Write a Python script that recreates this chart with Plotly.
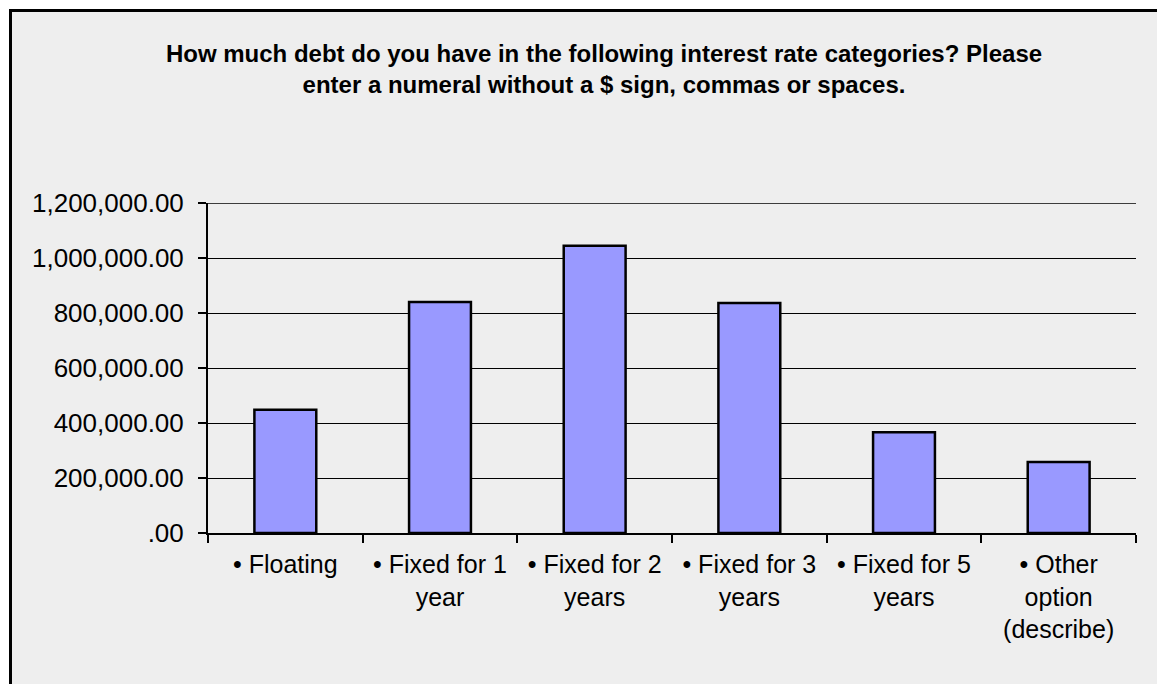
import plotly.graph_objects as go

# Debt by interest-rate category
categories = [
    "• Floating",
    "• Fixed for 1<br>year",
    "• Fixed for 2<br>years",
    "• Fixed for 3<br>years",
    "• Fixed for 5<br>years",
    "• Other<br>option<br>(describe)",
]
debt = [448000, 840000, 1045000, 836000, 366000, 258000]
y_ticks = [0, 200000, 400000, 600000, 800000, 1000000, 1200000]

title_text = ("How much debt do you have in the following interest rate categories? Please"
              "<br>enter a numeral without a $ sign, commas or spaces.")


def fmt_tick(v):
    s = f"{v:,.2f}"
    return s[1:] if s.startswith("0") else s


W, H = 1157, 684
L, R, T, B = 208, 21, 203, 151
pw, ph = W - L - R, H - T - B
FONT = "Liberation Sans, Arial, sans-serif"


def px_x(p):
    return (p - L) / pw


def px_y(p):
    return (H - B - p) / ph


fig = go.Figure(
    go.Bar(
        x=categories,
        y=debt,
        width=0.4,
        marker=dict(color="#9999FF", line=dict(color="black", width=2.5)),
    )
)

# framed gray panel behind the chart
fig.add_shape(
    type="rect", xref="paper", yref="paper",
    x0=px_x(10.5), x1=px_x(W + 10), y0=px_y(10.5), y1=px_y(H + 10),
    line=dict(color="black", width=3), fillcolor="#EEEEEE", layer="below",
)
# top gridline at the axis maximum
fig.add_shape(
    type="line", xref="paper", yref="y",
    x0=px_x(200), x1=1, y0=y_ticks[-1], y1=y_ticks[-1],
    line=dict(color="black", width=1.5), layer="below",
)

fig.update_layout(
    width=W, height=H,
    margin=dict(l=L, r=R, t=T, b=B),
    paper_bgcolor="white",
    plot_bgcolor="rgba(0,0,0,0)",
    showlegend=False,
    font=dict(family=FONT, color="black"),
    title=dict(
        text=title_text,
        font=dict(size=24, family=FONT, color="black", weight="bold"),
        xref="container", x=604 / W, xanchor="center",
        yref="container", y=1 - 62 / H, yanchor="top",
    ),
)

fig.update_xaxes(
    type="category",
    tickson="boundaries",
    ticks="outside", ticklen=8, tickwidth=1.5, tickcolor="black",
    showline=True, linecolor="black", linewidth=2,
    showgrid=False,
    tickfont=dict(size=25),
    ticklabelstandoff=8,
)

fig.update_yaxes(
    range=[0, 1200000],
    tickvals=y_ticks,
    ticktext=[fmt_tick(v) for v in y_ticks],
    ticks="outside", ticklen=8, tickwidth=1.5, tickcolor="black",
    showline=True, linecolor="black", linewidth=2,
    showgrid=True, gridcolor="black", gridwidth=1.3,
    zeroline=False,
    tickfont=dict(size=26),
    ticklabelstandoff=9,
)

fig.write_html("out.html")
